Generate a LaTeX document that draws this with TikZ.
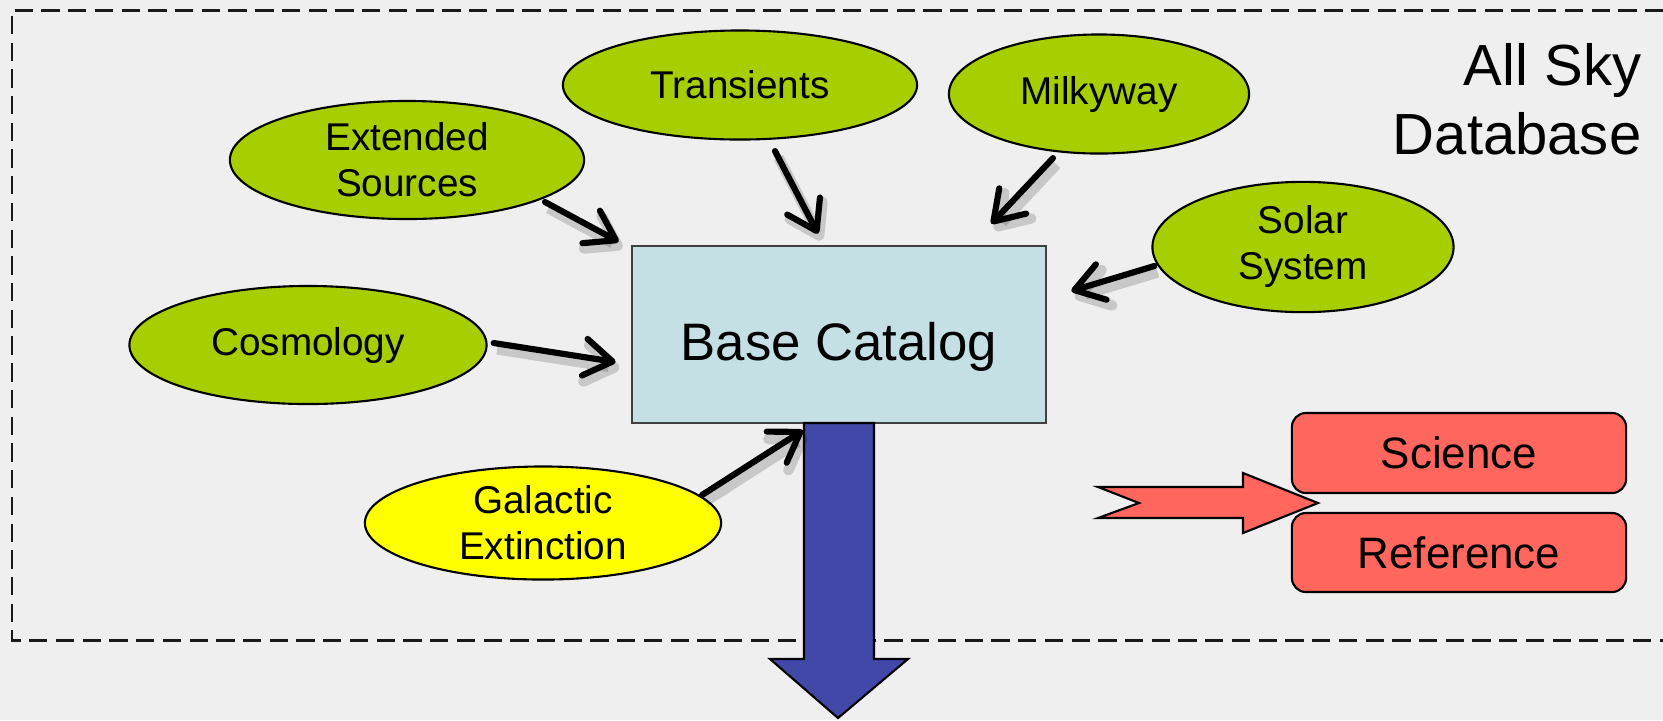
\documentclass[tikz,border=0pt]{standalone}
\usepackage{fontspec}
\setmainfont{Liberation Sans}
\usetikzlibrary{arrows.meta,calc,shapes.geometric}
\definecolor{bg}{RGB}{239,239,239}
\definecolor{greenfill}{RGB}{166,206,0}
\definecolor{yellowfill}{RGB}{255,255,0}
\definecolor{lightblue}{RGB}{196,224,229}
\definecolor{redfill}{RGB}{255,102,94}
\definecolor{bluefill}{RGB}{66,72,168}
\tikzset{
  ell/.style={ellipse, draw=black, line width=0.6pt, fill=greenfill, inner sep=0pt,
    align=center, font=\fontsize{11}{13.1}\selectfont},
  conn/.style={line width=1.75pt, line cap=round,
    -{Straight Barb[length=8pt,width=10.5pt,round]},
    preaction={draw=black, opacity=0.16, line width=3pt,
      transform canvas={xshift=1pt,yshift=-1.8pt}}},
  redbox/.style={draw=black, line width=0.6pt, fill=redfill, rounded corners=4pt,
    minimum width=3.34cm, inner sep=0pt, font=\fontsize{12.5}{15}\selectfont},
  frame/.style={draw=black!90, line width=0.85pt, dash pattern=on 5.2pt off 2.4pt},
  shapeline/.style={draw=black, line width=0.6pt, line join=miter}
}
\begin{document}
\begin{tikzpicture}[x=0.01cm,y=-0.01cm]
\useasboundingbox[fill=bg] (0,0) rectangle (1663,720);

% dashed frame (right side runs off the page)
\draw[frame] (1690,10) -- (12,10) -- (12,640) -- (1690,640);

% title
\node[anchor=north east, align=right, inner sep=0pt,
  font=\fontsize{16.5}{19.6}\selectfont] (title) at (1642,43) {All Sky\\Database};

% base catalog
\node[draw=black!75, fill=lightblue, line width=0.7pt, minimum width=4.14cm,
  minimum height=1.77cm, inner sep=0pt, text height=15pt, text depth=0pt,
  font=\fontsize{15}{18}\selectfont]
  (base) at (839,334.5) {Base Catalog};

% blue output arrow
\draw[shapeline, fill=bluefill] (804,423) -- (874,423) -- (874,659) -- (908,659)
  -- (838,718) -- (770,659) -- (804,659) -- cycle;

% ellipses
\node[ell, minimum width=3.54cm, minimum height=1.18cm] (ext) at (407,160) {Extended\\Sources};
\node[ell, minimum width=3.54cm, minimum height=1.09cm] (trans) at (740,85) {Transients};
\node[ell, minimum width=3.00cm, minimum height=1.19cm] (milky) at (1099,94) {Milkyway};
\node[ell, minimum width=3.01cm, minimum height=1.19cm] (solar) at (1303,247) {\raisebox{-1.3pt}{\begin{tabular}{@{}c@{}}Solar\\System\end{tabular}}};
\node[ell, minimum width=3.57cm, minimum height=1.18cm] (cosmo) at (308,345) {Cosmology};
\node[ell, fill=yellowfill, minimum width=3.56cm, minimum height=1.13cm] (gal) at (543,523) {Galactic\\Extinction};

% connectors
\draw[conn] ($(ext.center)+(138,42)$) -- ($(base.north west)+(-12,-3)$);
\draw[conn] ($(trans.south)+(35,10.5)$) -- ($(base.north)+(-21,-11)$);
\draw[conn] ($(milky.south)+(-46,3.5)$) -- ($(base.north east)+(-56,-21)$);
\draw[conn] ($(solar.west)+(3,19)$) -- ($(base.east)+(24,-43.5)$);
\draw[conn] ($(cosmo.east)+(6,-2)$) -- ($(base.west)+(-15,27.5)$);
\draw[conn] ($(gal.center)+(159,-28)$) -- ($(base.south)+(-36,6)$);

% science / reference
\node[redbox, minimum height=0.80cm] (sci) at (1459,453) {Science};
\node[redbox, minimum height=0.79cm] (ref) at (1459,552.5) {Reference};
\draw[shapeline, fill=redfill] (1098,487) -- (1243,487) -- (1243,473) -- (1318,503)
  -- (1243,533) -- (1243,518) -- (1098,518) -- (1139,503) -- cycle;
\end{tikzpicture}
\end{document}
